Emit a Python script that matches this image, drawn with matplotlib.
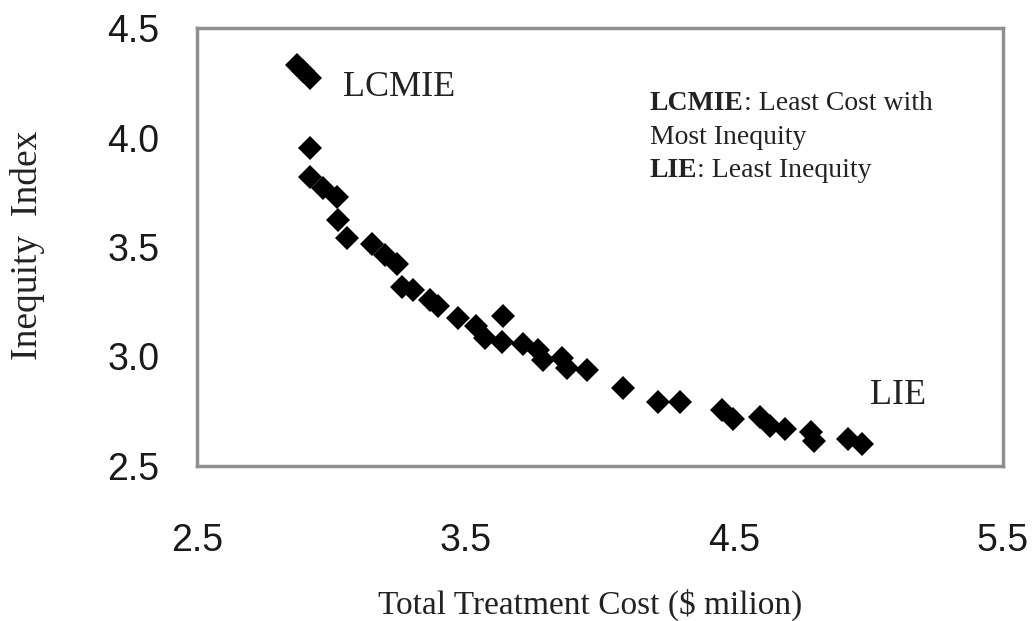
import matplotlib
matplotlib.use("Agg")
import matplotlib.pyplot as plt

# pareto front
cost = [2.872, 2.894, 2.921, 2.921, 2.921, 2.969, 3.021, 3.025, 3.058, 3.151,
        3.200, 3.244, 3.263, 3.304, 3.367, 3.397, 3.471, 3.538, 3.572, 3.639,
        3.635, 3.713, 3.769, 3.788, 3.858, 3.877, 3.951, 4.085, 4.216, 4.298,
        4.454, 4.495, 4.595, 4.633, 4.688, 4.785, 4.796, 4.923, 4.975]
inequity = [4.331, 4.304, 4.272, 3.952, 3.820, 3.769, 3.728, 3.623, 3.541, 3.514,
            3.463, 3.422, 3.317, 3.304, 3.258, 3.231, 3.176, 3.139, 3.084, 3.185,
            3.066, 3.057, 3.030, 2.984, 2.993, 2.947, 2.938, 2.856, 2.792, 2.792,
            2.756, 2.715, 2.724, 2.683, 2.669, 2.655, 2.614, 2.623, 2.600]

x_ticks = [2.5, 3.5, 4.5, 5.5]
y_ticks = [2.5, 3.0, 3.5, 4.0, 4.5]

serif = "Liberation Serif"
sans = "Liberation Sans"

fig = plt.figure(figsize=(10.33, 6.21), dpi=100)
ax = fig.add_axes([197 / 1033, 155 / 621, 806 / 1033, 438 / 621])

ax.plot(cost, inequity, linestyle="none", marker="D", markersize=12.5,
        color="black", markeredgewidth=0)

ax.set_xlim(2.5, 5.5)
ax.set_ylim(2.5, 4.5)
ax.set_xticks(x_ticks)
ax.set_yticks(y_ticks)
ax.set_xticklabels([f"{v:.1f}" for v in x_ticks], family=sans, fontsize=27)
ax.set_yticklabels([f"{v:.1f}" for v in y_ticks], family=sans, fontsize=27)
ax.tick_params(axis="x", length=0, pad=41, colors="#1a1a1a")
ax.tick_params(axis="y", length=0, pad=27, colors="#1a1a1a")

for s in ax.spines.values():
    s.set_color("#8f8f8f")
    s.set_linewidth(2.5)

ax.set_xlabel("Total Treatment Cost ($ milion)", family=serif, fontsize=24,
              color="#222222", va="center")
ax.xaxis.set_label_coords(0.4876, -0.317)
ax.set_ylabel("Inequity  Index", family=serif, fontsize=27,
              color="#222222", va="center")
ax.yaxis.set_label_coords(-0.2097, 0.5046)

# point labels
ax.text(3.043, 4.23, "LCMIE", family=serif, fontsize=26, color="#222222",
        va="center", ha="left")
ax.text(5.005, 2.82, "LIE", family=serif, fontsize=26, color="#222222",
        va="center", ha="left")

# definitions box
rows = [("LCMIE", ": Least Cost with"), ("", "Most Inequity"), ("LIE", ": Least Inequity")]
ty = [4.126, 3.972, 3.82]
for (b, rest), y in zip(rows, ty):
    if b:
        t = ax.text(4.186, y, b, family=serif, fontsize=20, fontweight="bold",
                    color="#222222", va="baseline", ha="left")
        ax.annotate(rest, xy=(1, 0), xycoords=t, family=serif, fontsize=20,
                    color="#222222", va="bottom", ha="left")
    else:
        ax.text(4.186, y, rest, family=serif, fontsize=20, color="#222222",
                va="baseline", ha="left")

fig.savefig("out.png", dpi=100)
